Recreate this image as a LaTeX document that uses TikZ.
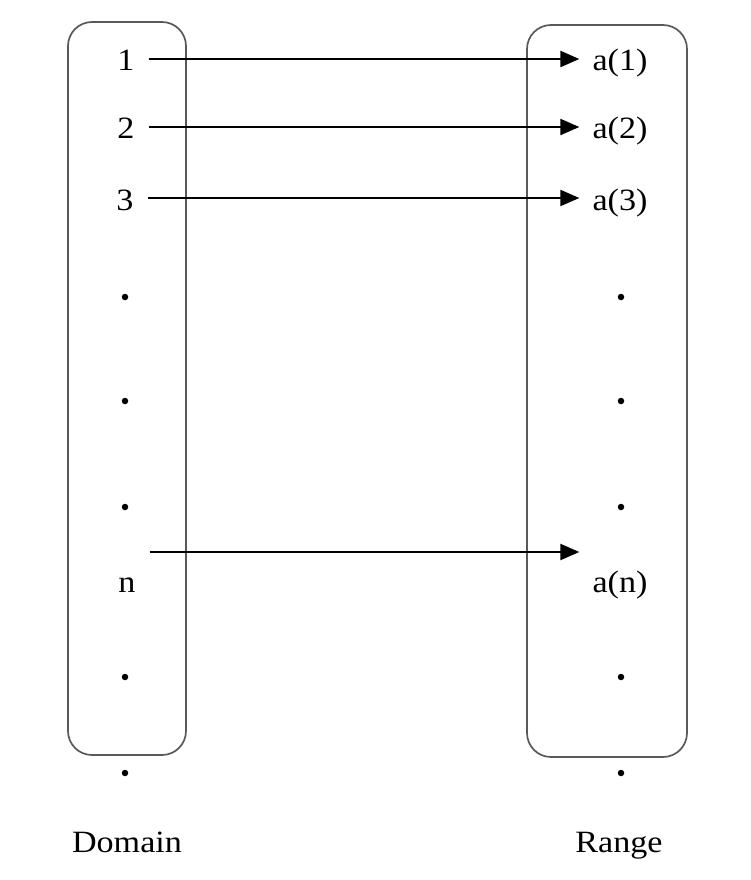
\documentclass[tikz,border=0pt]{standalone}
\usepackage{fontspec}
\setmainfont[FakeStretch=1.1]{Liberation Serif}
\usetikzlibrary{arrows.meta,calc}
\tikzset{
  setbox/.style ={draw=black!65, line width=1.7pt, rounded corners=24pt},
  elem/.style   ={anchor=base, font=\fontsize{31}{36}\selectfont, inner xsep=14pt,
                  inner ysep=0pt, text height=30pt, text depth=6pt},
  img/.style    ={elem, inner xsep=13pt},
  setname/.style={anchor=base, font=\fontsize{31}{36}\selectfont, inner sep=0pt},
  dotn/.style   ={circle, fill=black, inner sep=0pt, minimum size=6.5pt},
  mapar/.style  ={-{Triangle[length=19pt,width=16pt]}, line width=2.1pt},
}

\begin{document}
\begin{tikzpicture}[x=1pt,y=-1pt]
\useasboundingbox (0,0) rectangle (750,880);
% the two sets
\draw[setbox] (68,22) rectangle (186,755);
\draw[setbox] (527,25) rectangle (687,757);
% domain side
\node[elem] (d1) at (126,71) {1};
\node[elem] (d2) at (126,139) {2};
\node[elem] (d3) at (125,210) {3};
\node[elem] (dn) at (127,592) {n};
% range side
\node[img] (r1) at (620,71) {a(1)};
\node[img] (r2) at (620,139) {a(2)};
\node[img] (r3) at (620,210) {a(3)};
\node[img] (rn) at (620,592) {a(n)};
% dots
\foreach \yy in {297,401,507,677,773} {
  \node[dotn] (dl\yy) at (125,\yy) {};
  \node[dotn] (dr\yy) at (621,\yy) {};
}
\node[setname] (dom) at (127,852) {Domain};
\node[setname] (ran) at (619,852) {Range};
% the map
\draw[mapar] (d1.east) -- (d1.east -| r1.west);
\draw[mapar] (d2.east) -- (d2.east -| r2.west);
\draw[mapar] (d3.east) -- (d3.east -| r3.west);
\coordinate (nfrom) at ([yshift=28pt]dn.east);
\coordinate (nto) at (nfrom -| rn.west);
\draw[mapar] (nfrom) -- (nto);
\end{tikzpicture}
\end{document}
